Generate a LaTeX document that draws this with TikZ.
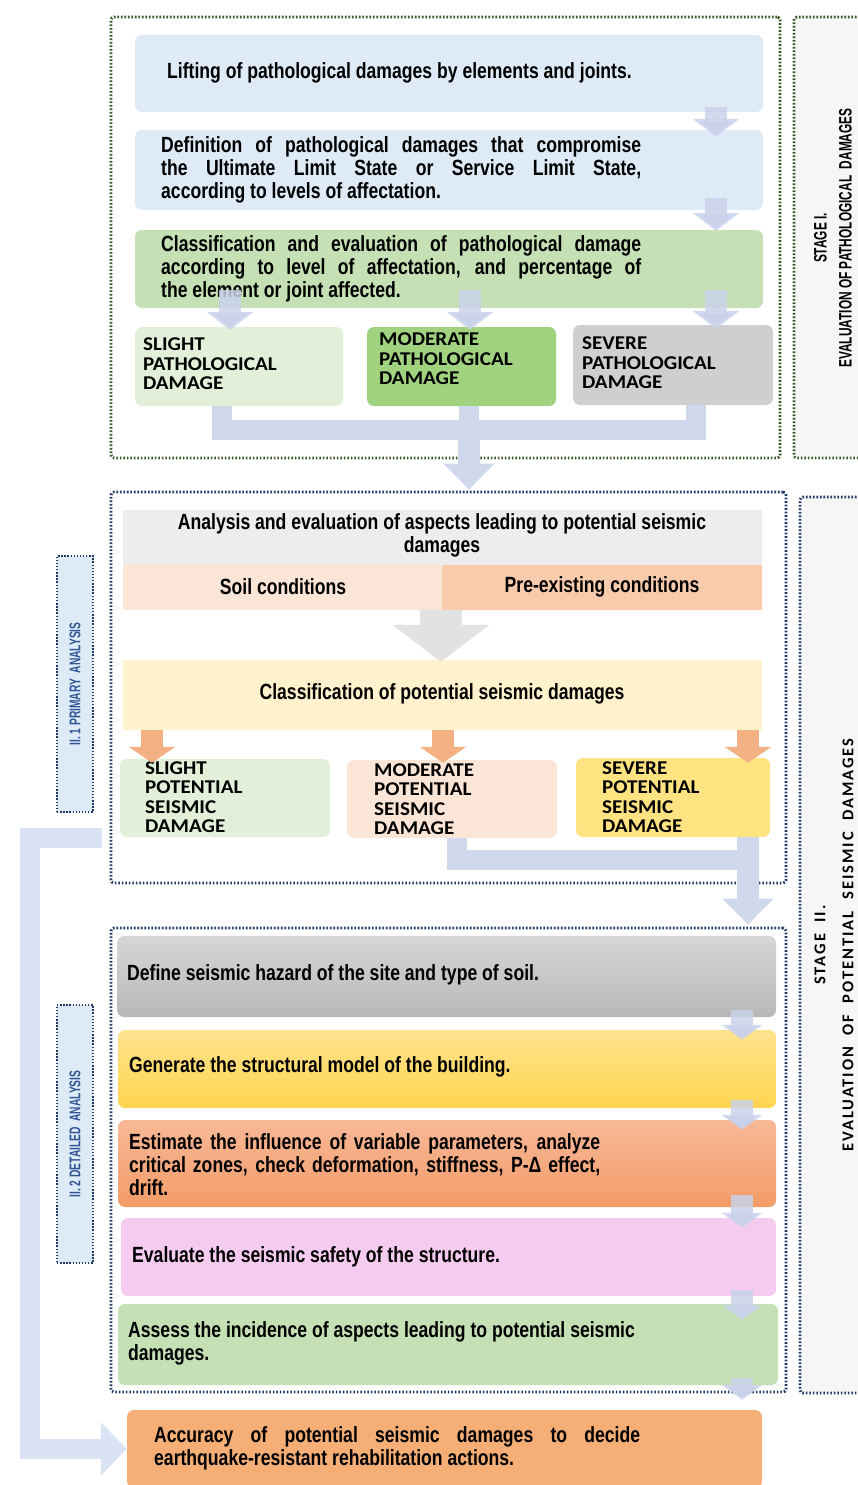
\documentclass[tikz,border=0pt]{standalone}
\usepackage{fontspec}
\usetikzlibrary{arrows.meta,calc}
\newfontfamily\agency[FakeStretch=0.8]{Liberation Sans}
\newfontfamily\narrowf[FakeStretch=0.66]{Liberation Sans}
\newfontfamily\calib[FakeStretch=1.08]{Carlito}
\newfontfamily\calibsp[LetterSpace=12]{Carlito}
\definecolor{dkgreen}{HTML}{385723}
\definecolor{navy}{HTML}{1F3864}
\definecolor{lblnavy}{HTML}{2F5597}
\definecolor{blueBox}{HTML}{DEEBF7}
\definecolor{greenBox}{HTML}{C5E0B4}
\definecolor{lightGreen}{HTML}{E2F0D9}
\definecolor{modGreen}{HTML}{A0D27F}
\definecolor{greyBox}{HTML}{D0CECE}
\definecolor{arrowBlue}{HTML}{C9D2EA}
\definecolor{barBlue}{HTML}{D0D9EC}
\definecolor{leftBlue}{HTML}{DAE3F3}
\definecolor{anaGrey}{HTML}{EDEDED}
\definecolor{soilC}{HTML}{FBE5D6}
\definecolor{preC}{HTML}{F8CBAD}
\definecolor{classC}{HTML}{FFF2CC}
\definecolor{orangeArr}{HTML}{F4B183}
\definecolor{sevYellow}{HTML}{FFE380}
\definecolor{bigGrey}{HTML}{E2E2E2}
\definecolor{lblGrey}{HTML}{F6F6F6}
\definecolor{pinkC}{HTML}{F5CCEF}
\definecolor{accC}{HTML}{F4AE76}
\definecolor{defTop}{HTML}{D6D6D6}
\definecolor{defBot}{HTML}{B8B8B8}
\definecolor{genTop}{HTML}{FFE38F}
\definecolor{genBot}{HTML}{FFD550}
\definecolor{estTop}{HTML}{F7B897}
\definecolor{estBot}{HTML}{F39C68}
\begin{document}
\begin{tikzpicture}[x=1pt,y=-1pt,
  box/.style={rounded corners=7pt, inner sep=0pt, draw=none},
  frameG/.style={draw=dkgreen, line width=2.8pt, dash pattern=on 1.6pt off 1.9pt, rounded corners=3pt, inner sep=0pt},
  frameN/.style={draw=navy, line width=2.8pt, dash pattern=on 1.6pt off 1.9pt, rounded corners=3pt, inner sep=0pt},
  frameL/.style={draw=navy, line width=2.4pt, dash pattern=on 1.4pt off 1.7pt, inner sep=0pt, fill=blueBox},
  txt/.style={font=\agency\bfseries\fontsize{22}{23}\selectfont, inner sep=0pt, anchor=west},
  caps/.style={font=\calib\bfseries\fontsize{19.5}{19.5}\selectfont, inner sep=0pt, align=left, anchor=north west},
  flow/.style={line width=22pt, draw=arrowBlue, draw opacity=0.85, -{Triangle[width=46pt,length=18pt]}},
  sflow/.style={line width=22pt, draw=arrowBlue, draw opacity=0.85, -{Triangle[width=40pt,length=15pt]}},
  oflow/.style={line width=22pt, draw=orangeArr, -{Triangle[width=46pt,length=16pt]}},
  bar/.style={line width=20pt, draw=barBlue, line join=miter},
  bigflow/.style={line width=22pt, draw=barBlue, -{Triangle[width=50pt,length=26pt]}},
  greyflow/.style={line width=42pt, draw=bigGrey, -{Triangle[width=95pt,length=37pt]}},
  lconn/.style={line width=20pt, draw=leftBlue, line join=miter, -{Triangle[width=52pt,length=26pt]}}
]
\useasboundingbox (0,0) rectangle (857,1485);

% ---------- frames ----------
\node[frameG, minimum width=669pt, minimum height=441pt] (s1) at (445.5,237.5) {};
\node[frameG, fill=lblGrey, minimum width=90pt, minimum height=441pt] (s1lab) at (839,237.5) {};
\node[frameN, minimum width=675pt, minimum height=391pt] (s2) at (448.5,687.5) {};
\node[frameN, minimum width=675pt, minimum height=464pt] (s3) at (448.5,1160) {};
\node[frameN, fill=lblGrey, minimum width=84pt, minimum height=896pt] (s2lab) at (842,945) {};
\node[frameL, minimum width=36pt, minimum height=256pt] (l1) at (75,684) {};
\node[frameL, minimum width=36pt, minimum height=258pt] (l2) at (75,1134) {};

% ---------- labels ----------
\node[rotate=90, align=center, inner sep=0pt, font=\narrowf\bfseries\fontsize{18}{25}\selectfont] (s1t) at (833,238)
  {STAGE I.\\EVALUATION OF PATHOLOGICAL\ \ DAMAGES};
\node[rotate=90, align=center, inner sep=0pt, font=\calibsp\bfseries\fontsize{16.5}{28}\selectfont] (s2t) at (834,945)
  {STAGE\ \ II.\\EVALUATION\ \ OF\ \ POTENTIAL\ \ SEISMIC\ \ DAMAGES};
\node[rotate=90, inner sep=0pt, text=lblnavy, font=\narrowf\bfseries\fontsize{15.5}{16}\selectfont] (l1t) at (75,684) {II. 1 PRIMARY\ \ ANALYSIS};
\node[rotate=90, inner sep=0pt, text=lblnavy, font=\narrowf\bfseries\fontsize{15.5}{16}\selectfont] (l2t) at (75,1134) {II. 2 DETAILED\ \ ANALYSIS};

% ---------- stage I boxes ----------
\node[box, fill=blueBox, minimum width=628pt, minimum height=77pt] (b1) at (449,73.5) {};
\node[box, fill=blueBox, minimum width=628pt, minimum height=80pt] (b2) at (449,170) {};
\node[box, fill=greenBox, minimum width=628pt, minimum height=78pt] (b3) at (449,269) {};
\node[box, fill=lightGreen, minimum width=208pt, minimum height=79pt] (p1) at (239,366.5) {};
\node[box, fill=modGreen, minimum width=189pt, minimum height=79pt] (p2) at (461.5,366.5) {};
\node[box, fill=greyBox, minimum width=200pt, minimum height=80pt] (p3) at (673,365) {};

\node[txt] (t1) at (167,73) {Lifting of pathological damages by elements and joints.};
\node[txt, text width=480pt, align=justify] (t2) at (161,170)
  {Definition of pathological damages that compromise\linebreak the Ultimate Limit State or Service Limit State,\linebreak according to levels of affectation.};
\node[txt, text width=480pt, align=justify] (t3) at (161,269)
  {Classification and evaluation of pathological damage\linebreak according to level of affectation, and percentage of\linebreak the element or joint affected.};
\node[caps] (pt1) at (143,338) {SLIGHT\\PATHOLOGICAL\\DAMAGE};
\node[caps] (pt2) at (379,333) {MODERATE\\PATHOLOGICAL\\DAMAGE};
\node[caps] (pt3) at (582,337) {SEVERE\\PATHOLOGICAL\\DAMAGE};

% ---------- stage II.1 boxes ----------
\node[box, rounded corners=1pt, fill=anaGrey, minimum width=639pt, minimum height=55pt] (a0) at (442.5,537.5) {};
\node[box, rounded corners=1pt, fill=soilC, minimum width=319pt, minimum height=45pt] (soil) at (282.5,587.5) {};
\node[box, rounded corners=1pt, fill=preC, minimum width=320pt, minimum height=45pt] (pre) at (602,587.5) {};
\node[box, rounded corners=1pt, fill=classC, minimum width=639pt, minimum height=70pt] (cl) at (442.5,695) {};
\node[box, fill=lightGreen, minimum width=210pt, minimum height=78pt] (q1) at (225,798) {};
\node[box, fill=soilC, minimum width=210pt, minimum height=78pt] (q2) at (452,799) {};
\node[box, fill=sevYellow, minimum width=194pt, minimum height=79pt] (q3) at (673,797.5) {};

\node[txt, anchor=center, align=center] (a0t) at (442,535) {Analysis and evaluation of aspects leading to potential seismic\\damages};
\node[txt, anchor=center] (soilt) at (283,587) {Soil conditions};
\node[txt, anchor=center] (pret) at (602,587) {Pre-existing conditions};
\node[txt, anchor=center] (clt) at (442,694) {Classification of potential seismic damages};
\node[caps] (qt1) at (145,761.5) {SLIGHT\\POTENTIAL\\SEISMIC\\DAMAGE};
\node[caps] (qt2) at (374,763.5) {MODERATE\\POTENTIAL\\SEISMIC\\DAMAGE};
\node[caps] (qt3) at (602,761.5) {SEVERE\\POTENTIAL\\SEISMIC\\DAMAGE};

% ---------- stage II.2 boxes ----------
\node[box, top color=defTop, bottom color=defBot, minimum width=659pt, minimum height=81pt] (d1) at (446.5,976.5) {};
\node[box, top color=genTop, bottom color=genBot, minimum width=658pt, minimum height=78pt] (d2) at (447,1069) {};
\node[box, top color=estTop, bottom color=estBot, minimum width=658pt, minimum height=87pt] (d3) at (447,1163.5) {};
\node[box, fill=pinkC, minimum width=655pt, minimum height=78pt] (d4) at (448.5,1257) {};
\node[box, fill=greenBox, minimum width=660pt, minimum height=81pt] (d5) at (448,1344.5) {};
\node[box, fill=accC, minimum width=635pt, minimum height=78pt] (acc) at (444.5,1449) {};

\node[txt] (d1t) at (127,975) {Define seismic hazard of the site and type of soil.};
\node[txt] (d2t) at (129,1067) {Generate the structural model of the building.};
\node[txt, text width=471pt, align=justify] (d3t) at (129,1165)
  {Estimate the influence of variable parameters, analyze\linebreak critical zones, check deformation, stiffness, P-Δ effect,\linebreak drift.};
\node[txt] (d4t) at (132,1257) {Evaluate the seismic safety of the structure.};
\node[txt, align=left] (d5t) at (128,1343.5) {Assess the incidence of aspects leading to potential seismic\\damages.};
\node[txt, text width=486pt, align=justify] (acct) at (154,1448)
  {Accuracy of potential seismic damages to decide\linebreak earthquake-resistant rehabilitation actions.};

% ---------- coordinates ----------
\coordinate (xA) at (716,0);
\coordinate (xL) at (230,0);
\coordinate (xC) at (470,0);
\coordinate (mL) at (222,430);
\coordinate (mC) at (469,430);
\coordinate (mR) at (696,430);
\coordinate (gx) at (441,0);
\coordinate (o1) at (152,0);
\coordinate (o2) at (443,0);
\coordinate (o3) at (748,0);
\coordinate (nM) at (457,860);
\coordinate (nR) at (748,860);
\coordinate (xS) at (742,0);
\coordinate (lA) at (102,838);
\coordinate (lB) at (30,1000);

% ---------- stage I connectors ----------
\draw[flow] ($(b1.south -| xA)+(0,-5)$) -- ($(b2.north -| xA)+(0,7)$);
\draw[flow] ($(b2.south -| xA)+(0,-12)$) -- ($(b3.north -| xA)+(0,1)$);
\draw[flow] ($(b3.south -| xL)+(0,-18)$) -- ($(p1.north -| xL)+(0,3)$);
\draw[flow] ($(b3.south -| xC)+(0,-18)$) -- ($(p2.north -| xC)+(0,3)$);
\draw[flow] ($(b3.south -| xA)+(0,-18)$) -- ($(p3.north -| xA)+(0,4)$);
\draw[bar] (p1.south -| mL) -- (mL) -- (mR) -- (p3.south -| mR);
\draw[bar] (p2.south -| mC) -- (mC);
\draw[bigflow] ($(mC)+(0,-10)$) -- ($(s2.north -| mC)+(0,-1)$);

% ---------- stage II.1 connectors ----------
\draw[greyflow] (soil.south -| gx) -- ($(cl.north -| gx)+(0,2)$);
\draw[oflow] (cl.south -| o1) -- ($(q1.north -| o1)+(0,4)$);
\draw[oflow] (cl.south -| o2) -- ($(q2.north -| o2)+(0,3)$);
\draw[oflow] (cl.south -| o3) -- ($(q3.north -| o3)+(0,5)$);
\draw[bar] (q2.south -| nM) -- (nM) -- ($(nR)+(10,0)$);
\draw[bigflow] (q3.south -| nR) -- ($(s3.north -| nR)+(0,-2)$);

% ---------- stage II.2 connectors ----------
\draw[sflow] ($(d1.south -| xS)+(0,-7)$) -- ($(d2.north -| xS)+(0,10)$);
\draw[sflow] ($(d2.south -| xS)+(0,-8)$) -- ($(d3.north -| xS)+(0,10)$);
\draw[sflow] ($(d3.south -| xS)+(0,-12)$) -- ($(d4.north -| xS)+(0,10)$);
\draw[sflow] ($(d4.south -| xS)+(0,-6)$) -- ($(d5.north -| xS)+(0,16)$);
\draw[sflow] ($(d5.south -| xS)+(0,-7)$) -- ($(acc.north -| xS)+(0,-10)$);

% ---------- left feedback connector ----------
\draw[lconn] (lA) -| (lB) |- (acc.west);
\end{tikzpicture}
\end{document}
